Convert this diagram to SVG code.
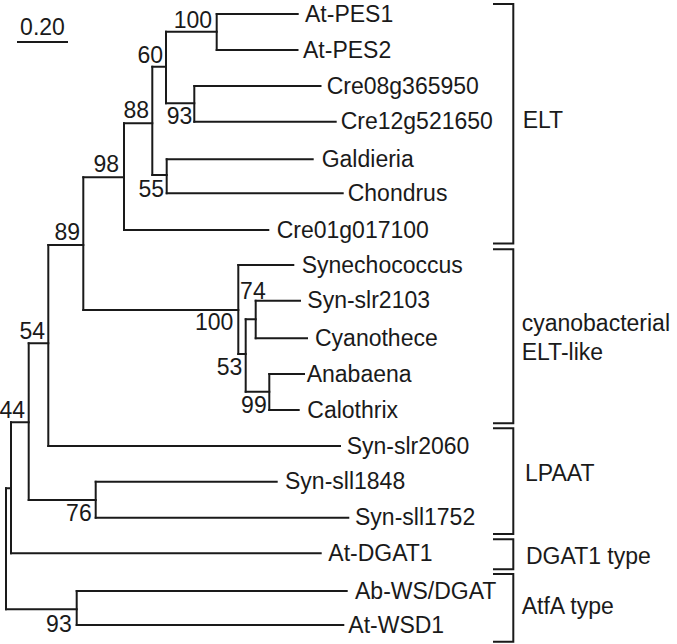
<svg xmlns="http://www.w3.org/2000/svg" width="677" height="644" viewBox="0 0 677 644">
<style>
.br{fill:none;stroke:#1a1a1a;stroke-width:2;stroke-linecap:square}
text{font-family:"Liberation Sans",Arial,sans-serif;font-size:23px;fill:#1a1a1a}
.bs{text-anchor:end}
</style>
<rect width="677" height="644" fill="#fff"/>
<g id="scale">
<line class="br" x1="18" y1="42" x2="67" y2="42" stroke-linecap="butt"/>
<text x="42.5" y="35" text-anchor="middle">0.20</text>
</g>
<g id="connectors" class="br">
<path d="M216.7 14V50M166 31.7V103.3M194.3 86V121.7M152.3 66.7V175M166.7 159.3V193.3M124 123.3V230M83.3 177.3V310M238.3 265V354M245.7 319.3V391.7M255.7 300.7V338.3M269.3 374V410M48.3 245V446M28.7 343.3V500M95.7 481.7V517.7M11 422.3V553.3M6 488.3V609.3M76.7 591V625"/>
<path d="M166 31.7H216.7M152.3 66.7H166M166 103.3H194.3M124 123.3H152.3M152.3 175H166.7M83.3 177.3H124M48.3 245H83.3M83.3 310H238.3M238.3 354H245.7M245.7 319.3H255.7M245.7 391.7H269.3M28.7 343.3H48.3M28.7 500H95.7M11 422.3H28.7M6 488.3H11M6 609.3H76.7"/>
<path d="M216.7 14H297.7M216.7 50H297.5M194.3 86H320.5M194.3 121.7H335.7M166.7 159.3H312.7M166.7 193.3H342.7M124 230H268.3M238.3 265H293.3M255.7 300.7H300M255.7 338.3H307M269.3 374H304M269.3 410H298.7M48.3 446H340M95.7 481.7H276.7M95.7 517.7H348.3M11 553.3H320.7M76.7 591H346.7M76.7 625H343.3"/>
</g>
<g id="leaves">
<g id="At-PES1"><text x="305" y="21.5">At-PES1</text></g>
<g id="At-PES2"><text x="303" y="57.5">At-PES2</text></g>
<g id="Cre08g365950"><text x="326.7" y="93.5">Cre08g365950</text></g>
<g id="Cre12g521650"><text x="340.7" y="129.2">Cre12g521650</text></g>
<g id="Galdieria"><text x="321.7" y="166.8">Galdieria</text></g>
<g id="Chondrus"><text x="347.7" y="200.8">Chondrus</text></g>
<g id="Cre01g017100"><text x="276.7" y="237.5">Cre01g017100</text></g>
<g id="Synechococcus"><text x="301.7" y="272.5">Synechococcus</text></g>
<g id="Syn-slr2103"><text x="307.3" y="308.2">Syn-slr2103</text></g>
<g id="Cyanothece"><text x="315" y="345.8">Cyanothece</text></g>
<g id="Anabaena"><text x="306.7" y="381.5">Anabaena</text></g>
<g id="Calothrix"><text x="307.3" y="417.5">Calothrix</text></g>
<g id="Syn-slr2060"><text x="346.7" y="453.5">Syn-slr2060</text></g>
<g id="Syn-sll1848"><text x="285" y="489.2">Syn-sll1848</text></g>
<g id="Syn-sll1752"><text x="355" y="525.2">Syn-sll1752</text></g>
<g id="At-DGAT1"><text x="328.3" y="560.8">At-DGAT1</text></g>
<g id="Ab-WS-DGAT"><text x="355" y="598.5">Ab-WS/DGAT</text></g>
<g id="At-WSD1"><text x="348.3" y="632.5">At-WSD1</text></g>
</g>
<g id="bootstrap">
<g id="n100a"><text class="bs" x="212" y="28">100</text></g>
<g id="n60"><text class="bs" x="163" y="63">60</text></g>
<g id="n93a"><text class="bs" x="192.3" y="124">93</text></g>
<g id="n88"><text class="bs" x="149" y="118.3">88</text></g>
<g id="n98"><text class="bs" x="119" y="171.7">98</text></g>
<g id="n55"><text class="bs" x="164" y="196.7">55</text></g>
<g id="n89"><text class="bs" x="80" y="240">89</text></g>
<g id="n100b"><text class="bs" x="233.3" y="330">100</text></g>
<g id="n74"><text class="bs" x="265.7" y="299.3">74</text></g>
<g id="n53"><text class="bs" x="242.3" y="375">53</text></g>
<g id="n99"><text class="bs" x="266.7" y="412.7">99</text></g>
<g id="n54"><text class="bs" x="45" y="339.3">54</text></g>
<g id="n44"><text class="bs" x="25" y="418.3">44</text></g>
<g id="n76"><text class="bs" x="91.7" y="520.7">76</text></g>
<g id="n93b"><text class="bs" x="71.7" y="631.7">93</text></g>
</g>
<g id="groups">
<g id="ELT"><path class="br" stroke-linecap="butt" d="M494 4H513.3V243.5H494"/><text x="522.7" y="128.3">ELT</text></g>
<g id="cyano"><path class="br" stroke-linecap="butt" d="M494 249.3H513.3V423.3H494"/><text x="521.7" y="330.5">cyanobacterial</text><text x="521.7" y="360">ELT-like</text></g>
<g id="LPAAT"><path class="br" stroke-linecap="butt" d="M494 428.3H513.3V534H494"/><text x="525" y="480.7">LPAAT</text></g>
<g id="DGAT1"><path class="br" stroke-linecap="butt" d="M494 539.3H513.3V569.3H494"/><text x="526" y="564">DGAT1 type</text></g>
<g id="AtfA"><path class="br" stroke-linecap="butt" d="M494 574H513.3V641.7H494"/><text x="521.7" y="614">AtfA type</text></g>
</g>
</svg>
